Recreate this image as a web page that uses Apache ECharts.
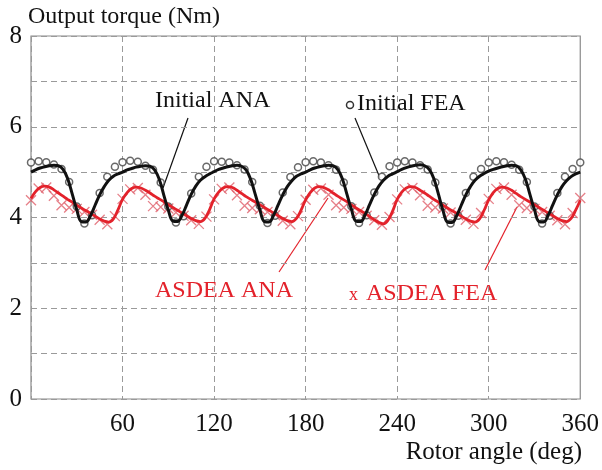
<!DOCTYPE html>
<html>
<head>
<meta charset="utf-8">
<script src="https://cdn.jsdelivr.net/npm/echarts@6/dist/echarts.min.js"></script>
<style>
  html, body { margin: 0; padding: 0; background: #fff; }
  #chart { width: 602px; height: 470px; }
</style>
</head>
<body>
<div id="chart"></div>
<script>
// rotor angle (deg), analytical curves sampled every 3 deg
var anaAngles = [];
for (var a = 0; a <= 360; a += 3) anaAngles.push(a);
// FEA points every 5 deg
var feaAngles = [];
for (var b = 0; b <= 360; b += 5) feaAngles.push(b);

var initialAna = [
  5.00, 5.05, 5.09, 5.12, 5.14, 5.15, 5.14, 5.06, 4.86, 4.52, 4.17, 3.91, 3.90, 4.04, 4.27, 4.50, 4.68, 4.82, 4.91, 4.96,
  5.00, 5.05, 5.08, 5.11, 5.13, 5.14, 5.13, 5.05, 4.85, 4.50, 4.16, 3.92, 3.91, 4.05, 4.28, 4.51, 4.69, 4.82, 4.90, 4.96,
  5.01, 5.06, 5.09, 5.12, 5.14, 5.15, 5.13, 5.05, 4.84, 4.51, 4.17, 3.91, 3.90, 4.05, 4.28, 4.50, 4.68, 4.81, 4.91, 4.96,
  5.00, 5.05, 5.09, 5.12, 5.14, 5.15, 5.14, 5.06, 4.86, 4.52, 4.18, 3.92, 3.91, 4.06, 4.29, 4.51, 4.69, 4.82, 4.91, 4.96,
  5.01, 5.06, 5.10, 5.13, 5.15, 5.16, 5.14, 5.06, 4.86, 4.52, 4.16, 3.90, 3.89, 4.04, 4.27, 4.50, 4.68, 4.82, 4.91, 4.97,
  5.02, 5.06, 5.09, 5.12, 5.14, 5.15, 5.14, 5.05, 4.85, 4.51, 4.17, 3.91, 3.90, 4.05, 4.28, 4.50, 4.68, 4.81, 4.90, 4.96,
  5.00
];
var asdeaAna = [
  4.42, 4.57, 4.66, 4.69, 4.67, 4.61, 4.54, 4.47, 4.40, 4.34, 4.27, 4.21, 4.15, 4.09, 4.03, 3.97, 3.92, 3.90, 3.97, 4.17,
  4.40, 4.55, 4.64, 4.67, 4.65, 4.60, 4.54, 4.47, 4.41, 4.35, 4.28, 4.22, 4.16, 4.10, 4.04, 3.98, 3.93, 3.91, 3.98, 4.17,
  4.41, 4.56, 4.65, 4.68, 4.66, 4.60, 4.53, 4.46, 4.40, 4.34, 4.28, 4.22, 4.16, 4.10, 4.04, 3.98, 3.93, 3.91, 3.98, 4.16,
  4.39, 4.55, 4.65, 4.68, 4.66, 4.61, 4.54, 4.47, 4.41, 4.35, 4.28, 4.21, 4.15, 4.09, 4.02, 3.95, 3.89, 3.86, 3.94, 4.14,
  4.40, 4.56, 4.65, 4.68, 4.66, 4.60, 4.54, 4.47, 4.40, 4.34, 4.27, 4.21, 4.15, 4.09, 4.03, 3.97, 3.92, 3.90, 3.97, 4.16,
  4.39, 4.55, 4.64, 4.67, 4.65, 4.60, 4.53, 4.46, 4.40, 4.34, 4.28, 4.22, 4.16, 4.10, 4.04, 3.98, 3.93, 3.91, 3.98, 4.16,
  4.38
];
var initialFea = [
  5.21, 5.24, 5.22, 5.17, 5.07, 4.78, 4.24, 3.87, 4.05, 4.54, 4.90, 5.12,
  5.22, 5.25, 5.23, 5.14, 5.05, 4.77, 4.24, 3.89, 4.03, 4.53, 4.90, 5.12,
  5.24, 5.23, 5.21, 5.15, 5.06, 4.78, 4.26, 3.88, 4.04, 4.55, 4.89, 5.11,
  5.22, 5.24, 5.21, 5.15, 5.05, 4.77, 4.25, 3.88, 4.05, 4.55, 4.90, 5.13,
  5.21, 5.24, 5.21, 5.15, 5.06, 4.77, 4.25, 3.87, 4.04, 4.54, 4.90, 5.07,
  5.21, 5.24, 5.22, 5.16, 5.05, 4.78, 4.24, 3.87, 4.04, 4.54, 4.90, 5.07,
  5.21
];
var asdeaFea = [
  4.38, 4.64, 4.66, 4.48, 4.27, 4.22, 4.19, 4.12, 4.06, 3.95, 3.85, 4.03,
  4.41, 4.62, 4.65, 4.50, 4.25, 4.23, 4.20, 4.11, 4.04, 3.94, 3.86, 4.02,
  4.40, 4.63, 4.66, 4.49, 4.26, 4.21, 4.18, 4.12, 4.05, 3.93, 3.85, 4.03,
  4.39, 4.61, 4.64, 4.50, 4.27, 4.22, 4.19, 4.12, 4.04, 3.94, 3.84, 4.01,
  4.40, 4.62, 4.65, 4.49, 4.26, 4.22, 4.20, 4.11, 4.05, 3.95, 3.86, 4.10,
  4.41, 4.63, 4.66, 4.50, 4.27, 4.21, 4.19, 4.12, 4.04, 3.94, 3.85, 4.10,
  4.43
];

function pairs(xs, ys) {
  return xs.map(function(x, i) { return [x, ys[i]] })
}

var FONT = "'Liberation Serif', 'DejaVu Serif', serif"
var RED = '#e3222b'

var chart = echarts.init(document.getElementById('chart'), null, { renderer: 'canvas' })
chart.setOption({
  animation: false,
  backgroundColor: '#fff',
  grid: { left: 31, right: 20, top: 36, bottom: 71, show: true, borderColor: '#8a8a8a', borderWidth: 1.2 },
  xAxis: {
    type: 'value',
    min: 0,
    max: 360,
    interval: 60,
    axisLine: { show: false },
    axisTick: { show: false },
    axisLabel: {
      margin: 13,
      fontFamily: FONT,
      fontSize: 25,
      color: '#111',
      formatter: function(v) { return v === 0 ? '' : String(v) }
    },
    splitLine: { lineStyle: { color: '#9a9a9a', type: [6, 4], width: 1 } }
  },
  yAxis: {
    type: 'value',
    min: 0,
    max: 8,
    interval: 1,
    axisLine: { show: false },
    axisTick: { show: false },
    axisLabel: {
      margin: 9,
      fontFamily: FONT,
      fontSize: 25,
      color: '#111',
      formatter: function(v) { return v % 2 === 0 ? String(v) : '' }
    },
    splitLine: { lineStyle: { color: '#9a9a9a', type: [6, 4], width: 1 } }
  },
  graphic: [
    { type: 'text', left: 28, top: 5, style: { text: 'Output torque (Nm)', font: '24px ' + FONT, fill: '#111' } },
    { type: 'text', right: 20, top: 440, style: { text: 'Rotor angle (deg)', font: '25px ' + FONT, fill: '#111' } },
    { type: 'text', left: 155, top: 89, style: { text: 'Initial ANA', font: '24px ' + FONT, fill: '#111' } },
    { type: 'line', shape: { x1: 188, y1: 118, x2: 163, y2: 188 }, style: { stroke: '#111', lineWidth: 1.2 } },
    { type: 'circle', shape: { cx: 350, cy: 105, r: 3.5 }, style: { fill: '#fff', stroke: '#333', lineWidth: 1.5 } },
    { type: 'text', left: 357, top: 92, style: { text: 'Initial FEA', font: '24px ' + FONT, fill: '#111' } },
    { type: 'line', shape: { x1: 355, y1: 118, x2: 380, y2: 178 }, style: { stroke: '#111', lineWidth: 1.2 } },
    { type: 'text', left: 155, top: 279, style: { text: 'ASDEA ANA', font: '24px ' + FONT, fill: RED } },
    { type: 'line', shape: { x1: 279, y1: 272, x2: 328, y2: 198 }, style: { stroke: RED, lineWidth: 1.2 } },
    { type: 'text', left: 349, top: 286, style: { text: 'x', font: '18px ' + FONT, fill: RED } },
    { type: 'text', left: 366, top: 282, style: { text: 'ASDEA FEA', font: '24px ' + FONT, fill: RED } },
    { type: 'line', shape: { x1: 485, y1: 270, x2: 517, y2: 207 }, style: { stroke: RED, lineWidth: 1.2 } }
  ],
  series: [
    {
      name: 'ASDEA FEA',
      type: 'scatter',
      symbol: 'path://M0,0L10,10M10,0L0,10',
      symbolSize: 10,
      itemStyle: { color: 'none', borderColor: '#e0606c', borderWidth: 1.3 },
      data: pairs(feaAngles, asdeaFea),
      z: 2
    },
    {
      name: 'Initial FEA',
      type: 'scatter',
      symbol: 'circle',
      symbolSize: 7,
      itemStyle: { color: '#fff', borderColor: '#444', borderWidth: 1.5 },
      data: pairs(feaAngles, initialFea),
      z: 2
    },
    {
      name: 'ASDEA ANA',
      type: 'line',
      smooth: 0.4,
      showSymbol: false,
      lineStyle: { color: RED, width: 2.8 },
      data: pairs(anaAngles, asdeaAna),
      z: 3
    },
    {
      name: 'Initial ANA',
      type: 'line',
      smooth: 0.4,
      showSymbol: false,
      lineStyle: { color: '#111', width: 3 },
      data: pairs(anaAngles, initialAna),
      z: 4
    }
  ]
})
</script>
</body>
</html>
